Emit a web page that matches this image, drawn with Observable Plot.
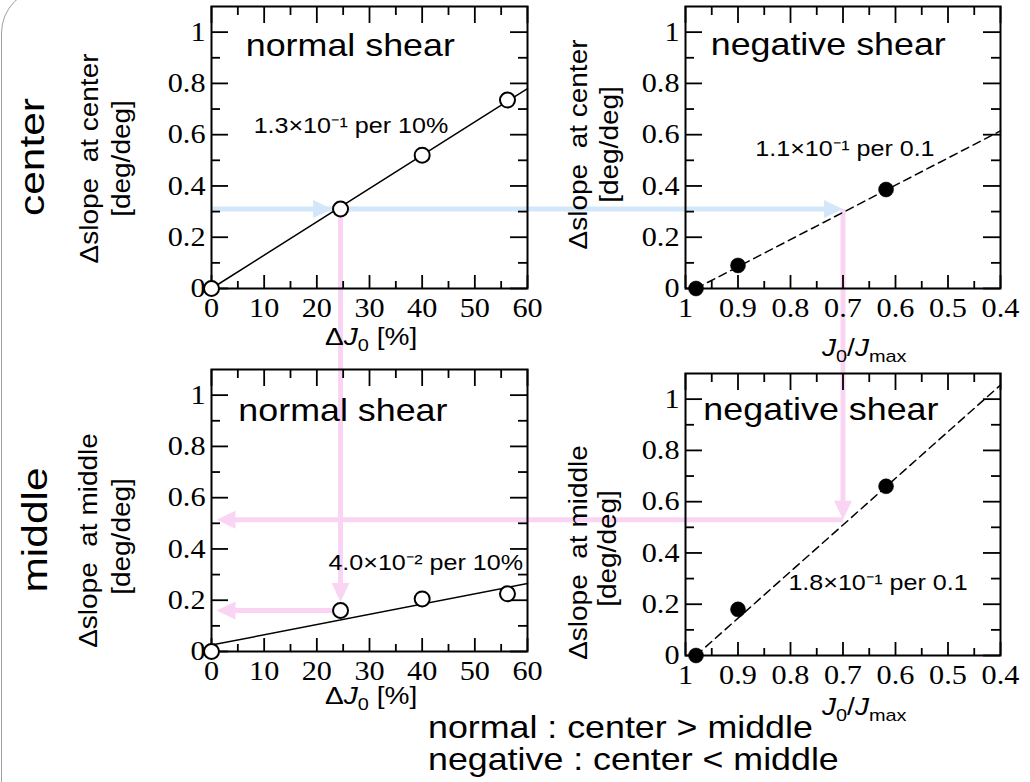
<!DOCTYPE html>
<html>
<head>
<meta charset="utf-8">
<script src="https://cdn.jsdelivr.net/npm/d3@7"></script>
<script src="https://cdn.jsdelivr.net/npm/@observablehq/plot@0.6"></script>
<style>
  html, body { margin: 0; padding: 0; background: #fff; }
  #fig { position: relative; width: 1030px; height: 782px; overflow: hidden; background: #fff; }
  #fig > svg { position: absolute; left: 0; top: 0; }
  #border { position: absolute; left: 1px; top: -12px; width: 1200px; height: 900px;
            border: 1.5px solid #a0a0a0; border-radius: 45px; box-sizing: border-box; }
</style>
</head>
<body>
<div id="fig"><div id="border"></div></div>
<script>
// ---------------- data ----------------
const yMajor = [0, 0.2, 0.4, 0.6, 0.8, 1];
const yMinor = [0.1, 0.3, 0.5, 0.7, 0.9];
const dJ0Major = [0, 10, 20, 30, 40, 50, 60];
const dJ0Minor = [5, 15, 25, 35, 45, 55];
const jRatioMajor = [1, 0.9, 0.8, 0.7, 0.6, 0.5, 0.4];
const jRatioMinor = [0.95, 0.85, 0.75, 0.65, 0.55, 0.45];

// normal shear (open circles): ΔJ0 [%]
const dJ0 = [0, 24.5, 40, 56.2];
const centerNormal = [0, 0.31, 0.52, 0.735];
const middleNormal = [0, 0.16, 0.205, 0.225];
// negative shear (filled circles): J0/Jmax
const jRatio = [0.98, 0.9, 0.618];
const centerNegative = [0, 0.09, 0.386];
const middleNegative = [0, 0.18, 0.66];

// linear fits (end points)
const fitNormalX = [0, 60];
const fitCenterNormal = [0, 0.78];
const fitMiddleNormal = [0.025, 0.265];
const fitNegativeX = [0.98, 0.4];
const fitCenterNegative = [0, 0.615];
const fitMiddleNegative = [0, 1.055];

// read-out guide values
const readDJ0 = 24.5;
const readCenterSlope = 0.31;
const readJRatio = 0.70;
const readMiddleNormal = 0.16;
const readMiddleNegative = 0.53;

// texts
const panelTitles = ["normal shear", "negative shear", "normal shear", "negative shear"];
const slopeNotes = ["1.3×10⁻¹ per 10%", "1.1×10⁻¹ per 0.1", "4.0×10⁻² per 10%", "1.8×10⁻¹ per 0.1"];
const yTitles = [["Δslope  at center", "[deg/deg]"], ["Δslope  at middle", "[deg/deg]"]];
const rowLabels = ["center", "middle"];
const captionLines = ["normal : center > middle", "negative : center < middle"];

// ---------------- drawing ----------------
const W = 1030, H = 782;
const sans = "Liberation Sans, Arial, Helvetica, sans-serif";
const serif = "Liberation Serif, Times New Roman, serif";
const fig = document.getElementById("fig");
const blue = "#d2e8fa";
const pink = "#f9d5f3";
// horizontal widening of glyphs (by font size) to match the reference's wide lettering
const widen = {32: 1.12, 22: 1.14, 25: 1.12, 27: 1.12};

function makePanel(cfg) {
  const [l, t, r, b] = cfg.box;
  const pw = r - l, ph = b - t;
  const pts = cfg.px.map((x, i) => ({x, y: cfg.py[i]}));
  const fit = cfg.fx.map((x, i) => ({x, y: cfg.fy[i]}));
  const tk = {stroke: "black", strokeWidth: 1.8};
  const lineOpts = {x: "x", y: "y", stroke: "black", strokeWidth: 1.5};
  if (cfg.dashed) lineOpts.strokeDasharray = "8,5";
  return Plot.plot({
    width: W, height: H,
    marginLeft: l, marginTop: t, marginRight: W - r, marginBottom: H - b,
    x: {domain: cfg.xDomain, axis: null},
    y: {domain: [0, 1.1], axis: null},
    style: {background: "transparent"},
    marks: [
      Plot.tickX(cfg.xMinor, {x: d => d, insetTop: ph - 7, ...tk}),
      Plot.tickX(cfg.xMajor, {x: d => d, insetTop: ph - 13, ...tk}),
      Plot.tickX(cfg.xMinor, {x: d => d, insetBottom: ph - 9, ...tk}),
      Plot.tickX(cfg.xMajor, {x: d => d, insetBottom: ph - 17, ...tk}),
      Plot.tickY(yMinor, {y: d => d, insetRight: pw - 9, ...tk}),
      Plot.tickY(yMajor, {y: d => d, insetRight: pw - 17, ...tk}),
      Plot.tickY(yMinor, {y: d => d, insetLeft: pw - 9, ...tk}),
      Plot.tickY(yMajor, {y: d => d, insetLeft: pw - 17, ...tk}),
      Plot.frame({stroke: "black", strokeWidth: 2}),
      Plot.text(cfg.xMajor, {x: d => d, text: cfg.xFmt, frameAnchor: "bottom", lineAnchor: "top", dy: 9,
        fontFamily: serif, fontSize: 27}),
      Plot.text(yMajor, {y: d => d, text: d => String(d), frameAnchor: "left", textAnchor: "end", lineAnchor: "middle",
        dx: -6, fontFamily: serif, fontSize: 27}),
      Plot.line(fit, lineOpts),
      Plot.dot(pts, {x: "x", y: "y", r: 7.5, fill: cfg.filled ? "black" : "white", stroke: "black",
        strokeWidth: cfg.filled ? 0.5 : 2}),
      Plot.text([cfg.title], {x: cfg.titleAt[0], y: cfg.titleAt[1], text: d => d, textAnchor: "start",
        lineAnchor: "bottom", fontFamily: sans, fontSize: 32}),
      Plot.text([cfg.note], {x: cfg.noteAt[0], y: cfg.noteAt[1], text: d => d, textAnchor: "start",
        lineAnchor: "bottom", fontFamily: sans, fontSize: 22}),
      Plot.text([cfg.ylab[0]], {text: d => d, frameAnchor: "left", rotate: -90, textAnchor: "middle",
        lineAnchor: "bottom", dx: cfg.yl[0], dy: cfg.yl[2], fontFamily: sans, fontSize: 25}),
      Plot.text([cfg.ylab[1]], {text: d => d, frameAnchor: "left", rotate: -90, textAnchor: "middle",
        lineAnchor: "bottom", dx: cfg.yl[1], dy: cfg.yl[3], fontFamily: sans, fontSize: 25})
    ]
  });
}

function widenText(svg) {
  svg.querySelectorAll("g[font-size] > text").forEach(el => {
    const k = widen[parseFloat(el.parentNode.getAttribute("font-size"))];
    const tf = el.getAttribute("transform");
    if (k && tf) el.setAttribute("transform", `${tf} scale(${k},1)`);
  });
  return svg;
}

const fmtNormal = d => String(d);
const fmtRatio = d => (d === 1 ? "1" : d.toFixed(1));

const tl = makePanel({box: [211, 6, 527, 288], xDomain: [0, 60], xMajor: dJ0Major, xMinor: dJ0Minor, xFmt: fmtNormal,
  px: dJ0, py: centerNormal, fx: fitNormalX, fy: fitCenterNormal, filled: false, dashed: false,
  title: panelTitles[0], titleAt: [6.5, 0.905], note: slopeNotes[0], noteAt: [8.0, 0.605],
  ylab: yTitles[0], yl: [-114, -82, 11, 11]});
const tr = makePanel({box: [685, 6, 1000, 288], xDomain: [1, 0.4], xMajor: jRatioMajor, xMinor: jRatioMinor, xFmt: fmtRatio,
  px: jRatio, py: centerNegative, fx: fitNegativeX, fy: fitCenterNegative, filled: true, dashed: true,
  title: panelTitles[1], titleAt: [0.952, 0.909], note: slopeNotes[1], noteAt: [0.867, 0.515],
  ylab: yTitles[0], yl: [-99, -68, -3, -3]});
const bl = makePanel({box: [211, 369, 527, 651], xDomain: [0, 60], xMajor: dJ0Major, xMinor: dJ0Minor, xFmt: fmtNormal,
  px: dJ0, py: middleNormal, fx: fitNormalX, fy: fitMiddleNormal, filled: false, dashed: false,
  title: panelTitles[2], titleAt: [5.1, 0.901], note: slopeNotes[2], noteAt: [22.2, 0.316],
  ylab: yTitles[1], yl: [-115, -82, 30, 26]});
const br = makePanel({box: [685, 373, 1000, 655], xDomain: [1, 0.4], xMajor: jRatioMajor, xMinor: jRatioMinor, xFmt: fmtRatio,
  px: jRatio, py: middleNegative, fx: fitNegativeX, fy: fitMiddleNegative, filled: true, dashed: true,
  title: panelTitles[3], titleAt: [0.966, 0.917], note: slopeNotes[3], noteAt: [0.804, 0.254],
  ylab: yTitles[1], yl: [-99, -70, 38, 34]});

// ---- read-out guide arrows (positions through each panel's scales) ----
const X = (p, v) => p.scale("x").apply(v);
const Y = (p, v) => p.scale("y").apply(v);
const rDot = 7.5, headLen = 19;
const xP = X(tl, readDJ0), yC = Y(tl, readCenterSlope), xJ = X(tr, readJRatio);
const yMN = Y(bl, readMiddleNormal), yMG = Y(br, readMiddleNegative), xAxis = X(bl, 0) + 5;

const blueSegs = [{x1: X(tl, 0), y1: yC, x2: xJ - 8, y2: yC}];
const blueHeads = [{x: xP - rDot - 1, y: yC, a: 90}, {x: xJ, y: yC, a: 90}];
const pinkSegs = [
  {x1: xP, y1: yC + rDot, x2: xP, y2: yMN - rDot - 8},
  {x1: xP - rDot, y1: yMN, x2: xAxis + 8, y2: yMN},
  {x1: xJ, y1: yC, x2: xJ, y2: yMG - 8},
  {x1: xJ, y1: yMG, x2: xAxis + 8, y2: yMG}
];
const pinkHeads = [
  {x: xP, y: yMN - rDot - 1, a: 180},
  {x: xAxis, y: yMN, a: 270},
  {x: xJ, y: yMG, a: 180},
  {x: xAxis, y: yMG, a: 270}
];
const tri = {draw(ctx, l) { ctx.moveTo(0, -l); ctx.lineTo(9, 0); ctx.lineTo(-9, 0); ctx.closePath(); }};

const guides = Plot.plot({
  width: W, height: H, margin: 0,
  x: {type: "identity", axis: null}, y: {type: "identity", axis: null},
  style: {background: "transparent"},
  marks: [
    Plot.link(pinkSegs, {x1: "x1", y1: "y1", x2: "x2", y2: "y2", stroke: pink, strokeWidth: 5}),
    Plot.link(blueSegs, {x1: "x1", y1: "y1", x2: "x2", y2: "y2", stroke: blue, strokeWidth: 5}),
    Plot.vector(pinkHeads, {x: "x", y: "y", rotate: "a", length: headLen, anchor: "end", shape: tri, fill: pink, stroke: "none"}),
    Plot.vector(blueHeads, {x: "x", y: "y", rotate: "a", length: headLen, anchor: "end", shape: tri, fill: blue, stroke: "none"})
  ]
});

fig.appendChild(guides);
[tl, tr, bl, br].forEach(p => fig.appendChild(widenText(p)));

// ---- outer labels (row labels, axis titles, caption) ----
const lab = d3.create("svg").attr("width", W).attr("height", H).style("font-family", sans).style("fill", "black");
rowLabels.forEach((t, i) => {
  lab.append("text").attr("transform", `translate(${[44, 47][i]},${[157, 530][i]}) rotate(-90) scale(1.18,1)`)
    .attr("text-anchor", "middle").style("font-size", "36px").text(t);
});
function richText(x, y, parts) {
  const t = lab.append("text").attr("transform", `translate(${x},${y}) scale(1.17,1)`).style("font-size", "24px");
  let shift = 0;
  parts.forEach(p => {
    const s = t.append("tspan").text(p.t);
    const want = p.sub ? 6 : 0;
    if (want !== shift) { s.attr("dy", want - shift); shift = want; }
    if (p.it) s.style("font-style", "italic");
    if (p.sub) s.style("font-size", "17px");
  });
}
const dJ0Title = [{t: "Δ"}, {t: "J", it: true}, {t: "0", sub: true}, {t: " [%]"}];
const ratioTitle = [{t: "J", it: true}, {t: "0", sub: true}, {t: "/"}, {t: "J", it: true}, {t: "max", sub: true}];
richText(325, 345, dJ0Title);
richText(325, 704, dJ0Title);
richText(822, 356, ratioTitle);
richText(822, 715, ratioTitle);
captionLines.forEach((t, i) => {
  lab.append("text").attr("transform", `translate(428,${[738, 770][i]}) scale(1.155,1)`)
    .style("font-size", "31px").text(t);
});
fig.appendChild(lab.node());
</script>
</body>
</html>
